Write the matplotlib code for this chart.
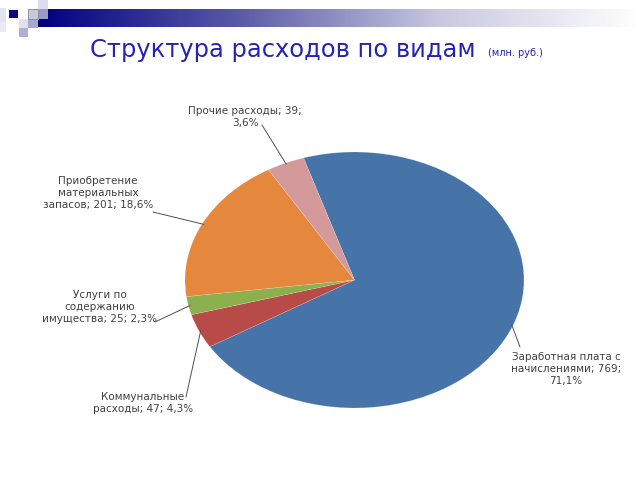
import matplotlib
matplotlib.use("Agg")
import matplotlib.pyplot as plt
import numpy as np
from matplotlib.patches import Rectangle
from matplotlib.colors import LinearSegmentedColormap

categories = ["Заработная плата с\nначислениями", "Коммунальные\nрасходы",
              "Услуги по\nсодержанию\nимущества", "Приобретение\nматериальных\nзапасов",
              "Прочие расходы"]
values = [769, 47, 25, 201, 39]
percents = ["71,1%", "4,3%", "2,3%", "18,6%", "3,6%"]
colors = ["#4673A8", "#B84B48", "#8BB04E", "#E5883E", "#D4999A"]

label_texts = [
    "Заработная плата с\nначислениями; 769;\n71,1%",
    "Коммунальные\nрасходы; 47; 4,3%",
    "Услуги по\nсодержанию\nимущества; 25; 2,3%",
    "Приобретение\nматериальных\nзапасов; 201; 18,6%",
    "Прочие расходы; 39;\n3,6%",
]

W, H = 640, 480
fig = plt.figure(figsize=(6.4, 4.8), dpi=100)
fig.patch.set_facecolor("white")

def fx(x):
    return x / W

def fy(y):
    return 1 - y / H

# decorative gradient bar
bar_ax = fig.add_axes([fx(38), fy(27), fx(602), 18 / H], zorder=1)
cmap = LinearSegmentedColormap.from_list("bar", ["#000080", "#5a5aa8", "#c8c8e0", "#ffffff"])
bar_ax.imshow(np.linspace(0, 1, 256)[None, :], aspect="auto", cmap=cmap, extent=[0, 1, 0, 1])
bar_ax.axis("off")

# decorative squares
squares = [
    (0, 8, 6, 14, "#e4e4f0"),
    (9, 10, 9, 8, "#0a0a80"),
    (38, 0, 10, 9, "#dcdcec"),
    (28, 9, 10, 10, "#c8c8d8"),
    (38, 9, 10, 10, "#9a9ac8"),
    (19, 19, 9, 9, "#e0e0ee"),
    (28, 19, 10, 9, "#a8a8d0"),
    (19, 28, 9, 9, "#b0b0d4"),
    (0, 22, 6, 10, "#eaeaf4"),
]
for x, y, w, h, c in squares:
    fig.patches.append(Rectangle((fx(x), fy(y + h)), fx(w), h / H, transform=fig.transFigure,
                                 facecolor=c, edgecolor="none", zorder=5))
fig.patches.append(Rectangle((fx(28), fy(19)), fx(10), 10 / H, transform=fig.transFigure,
                             facecolor="none", edgecolor="#8a8aa0", lw=0.6, zorder=6))

# title
fig.text(fx(90), fy(50), "Структура расходов по видам", color="#2323B8",
         fontsize=17.4, ha="left", va="center", family="DejaVu Sans")
fig.text(fx(488), fy(53), "(млн. руб.)", color="#2323B8", fontsize=7,
         ha="left", va="center")

# pie
left, right, top, bottom = 185, 524, 152, 408
ax = fig.add_axes([fx(left), fy(bottom), fx(right - left), (bottom - top) / H])
wedges, _ = ax.pie(values, colors=colors, startangle=107.5, counterclock=False,
                   radius=1.0, wedgeprops=dict(linewidth=0.4, edgecolor="#ffffff40"))
ax.set_aspect("auto")
ax.set_xlim(-1, 1)
ax.set_ylim(-1, 1)
ax.axis("off")

# label positions (pixels) and leader line starts
label_pos = [(566, 369), (143, 403), (100, 307), (98, 193), (245, 117)]
line_start = [(520, 347), (186, 397), (155, 322), (153, 212), (262, 125)]
for i, w in enumerate(wedges):
    fig.text(fx(label_pos[i][0]), fy(label_pos[i][1]), label_texts[i],
             ha="center", va="center", fontsize=7.5, color="#404040",
             linespacing=1.25)
    ang = np.deg2rad((w.theta1 + w.theta2) / 2)
    px, py = np.cos(ang), np.sin(ang)
    ax.annotate("", xy=(px * 0.99, py * 0.99), xycoords="data",
                xytext=(fx(line_start[i][0]), fy(line_start[i][1])),
                textcoords="figure fraction",
                arrowprops=dict(arrowstyle="-", color="#505050", lw=0.7,
                                shrinkA=0, shrinkB=0))

fig.savefig("out.png", dpi=100)
